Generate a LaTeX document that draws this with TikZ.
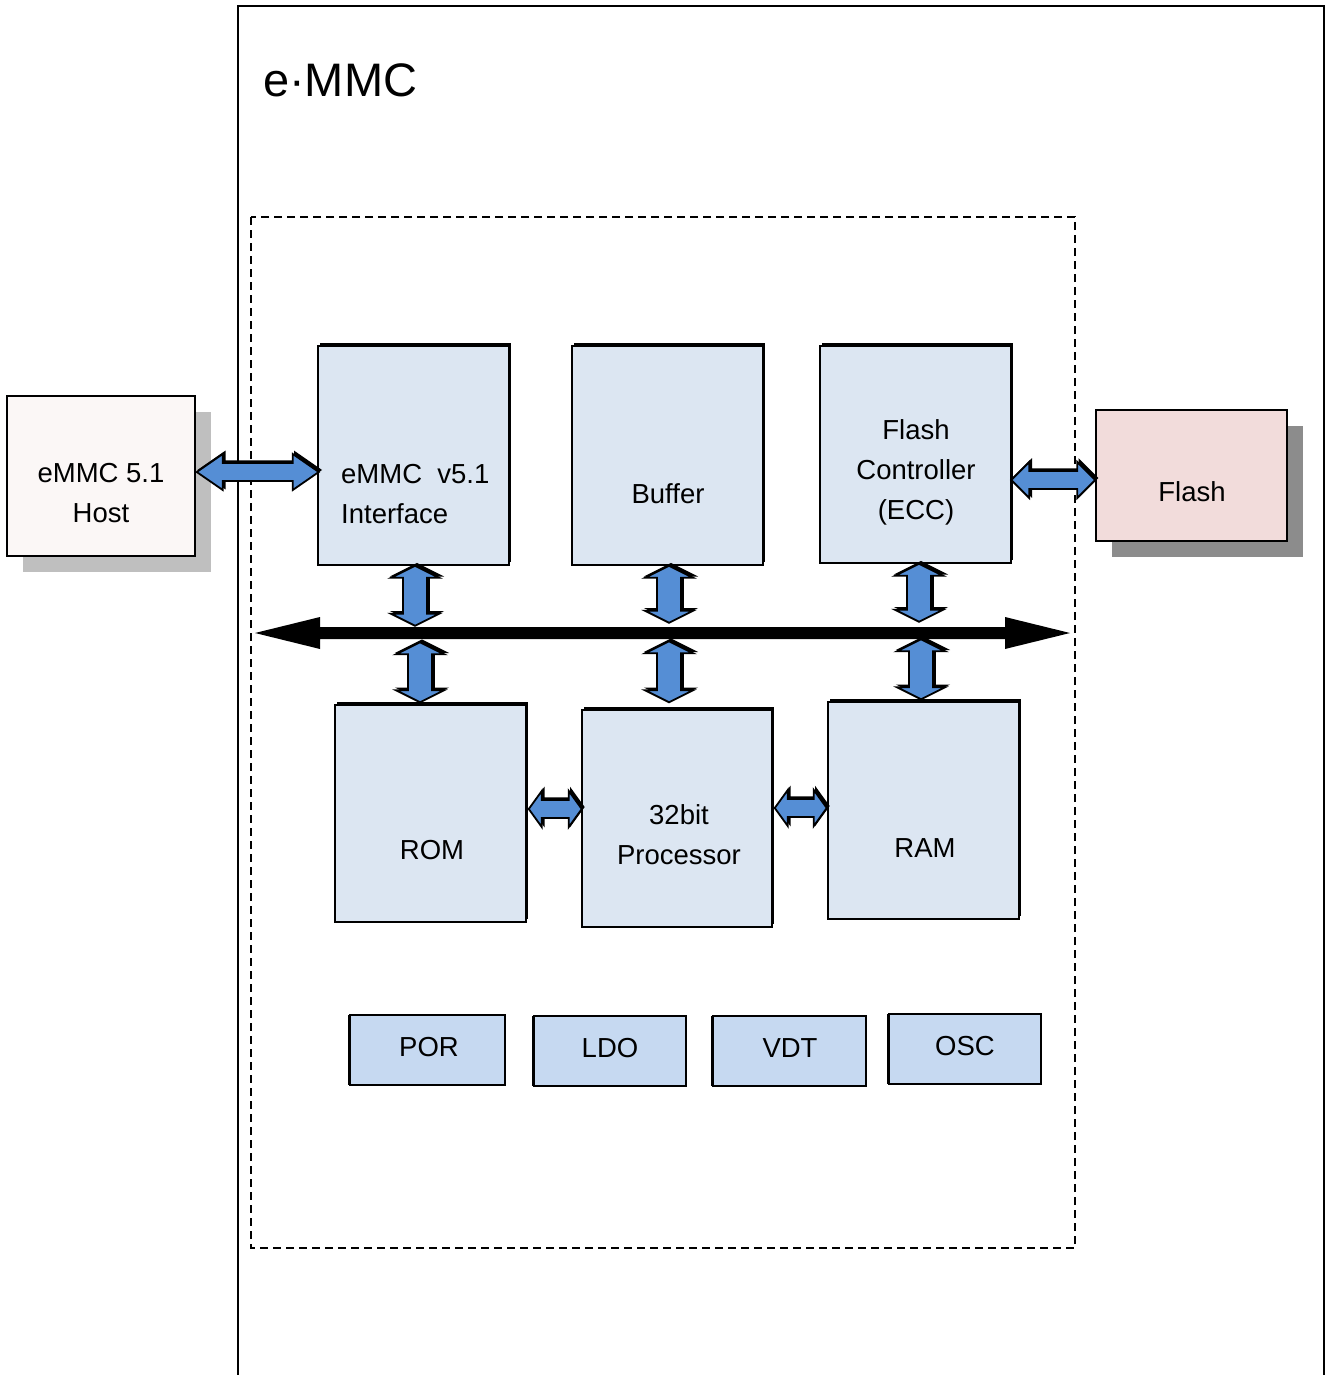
\documentclass[tikz,border=0pt]{standalone}
\usepackage{fontspec}
\setmainfont{Liberation Sans}
\usetikzlibrary{shadows,calc}
\definecolor{boxblue}{HTML}{DCE6F2}
\definecolor{smallblue}{HTML}{C6D9F1}
\definecolor{arrblue}{HTML}{558ED5}
\definecolor{hostfill}{HTML}{FBF7F6}
\definecolor{flashfill}{HTML}{F2DCDB}
\definecolor{hostshadow}{HTML}{BFBFBF}
\definecolor{flashshadow}{HTML}{8C8C8C}
\tikzset{
  txt/.style={font=\fontsize{27.5}{40}\selectfont, align=center, inner sep=0pt},
  blockbox/.style={draw=black, line width=1.5pt, fill=boxblue, inner sep=0pt,
    drop shadow={shadow xshift=2pt, shadow yshift=3pt, fill=black, opacity=1}},
  smallbox/.style={draw=black, line width=1.5pt, fill=smallblue, inner sep=0pt,
    drop shadow={shadow xshift=-2pt, shadow yshift=0pt, fill=black, opacity=1}},
  hostbox/.style={draw=black, line width=1.5pt, fill=hostfill, inner sep=0pt,
    drop shadow={shadow xshift=16pt, shadow yshift=-16pt, fill=hostshadow, opacity=1}},
  flashbox/.style={draw=black, line width=1.5pt, fill=flashfill, inner sep=0pt,
    drop shadow={shadow xshift=16pt, shadow yshift=-16pt, fill=flashshadow, opacity=1}},
  arrshadow/.style={fill=black, draw=black, line width=1.5pt, line join=miter},
  arrmain/.style={fill=arrblue, draw=black, line width=1.8pt, line join=miter},
  dashbox/.style={draw=black, line width=1.5pt, dash pattern=on 8pt off 5pt},
}
% vertical block double arrow: anchor, offset, length (downwards from top tip)
\newcommand\varrow[3]{%
  \filldraw[arrshadow] ($(#1)+(#2)+(2,-2)$) -- ++(24,12) -- ++(-12,0) -- ++(0,{#3-24}) -- ++(12,0) -- ++(-24,12) -- ++(-24,-12) -- ++(12,0) -- ++(0,{-(#3-24)}) -- ++(-12,0) -- cycle;
  \filldraw[arrmain] ($(#1)+(#2)$) -- ++(24,12) -- ++(-12,0) -- ++(0,{#3-24}) -- ++(12,0) -- ++(-24,12) -- ++(-24,-12) -- ++(12,0) -- ++(0,{-(#3-24)}) -- ++(-12,0) -- cycle;}
% horizontal block double arrow: anchor, offset, length, head length
\newcommand\harrow[4]{%
  \filldraw[arrshadow] ($(#1)+(#2)+(2,-2)$) -- ++(#4,-18) -- ++(0,9) -- ++({#3-2*#4},0) -- ++(0,-9) -- ++(#4,18) -- ++(-#4,18) -- ++(0,-9) -- ++({-(#3-2*#4)},0) -- ++(0,9) -- cycle;
  \filldraw[arrmain] ($(#1)+(#2)$) -- ++(#4,-18) -- ++(0,9) -- ++({#3-2*#4},0) -- ++(0,-9) -- ++(#4,18) -- ++(-#4,18) -- ++(0,-9) -- ++({-(#3-2*#4)},0) -- ++(0,9) -- cycle;}
\begin{document}
\begin{tikzpicture}[x=1pt,y=-1pt]
\useasboundingbox (0,0) rectangle (1327,1375);
\fill[white] (0,0) rectangle (1327,1375);

% outer frame
\draw[line width=2pt] (238,1375) -- (238,6) -- (1324,6) -- (1324,1375);
\node[anchor=base west, inner sep=0pt, font=\fontsize{47}{56}\selectfont] (title) at (263,97) {e·MMC};

% dashed inner box
\draw[dashbox] (251,217) rectangle (1075,1248);

% boxes
\node[hostbox, minimum width=188pt, minimum height=160pt] (host) at (101,476) {};
\node[txt] (host-t) at ($(host.center)+(0,17)$) {eMMC 5.1\\Host};

\node[blockbox, minimum width=191pt, minimum height=219pt] (ifc) at (413.5,455.5) {};
\node[txt, anchor=west, align=left] (ifc-t) at (341,494) {eMMC\ \ v5.1\\Interface};

\node[blockbox, minimum width=191pt, minimum height=219pt] (buf) at (667.5,455.5) {};
\node[txt] (buf-t) at (668,494) {Buffer};

\node[blockbox, minimum width=191pt, minimum height=217pt] (fc) at (915.5,454.5) {};
\node[txt] (fc-t) at (916,472) {Flash\\Controller\\(ECC)};

\node[flashbox, minimum width=191pt, minimum height=131pt] (flash) at (1191.5,475.5) {};
\node[txt] (flash-t) at (1192,492) {Flash};

\node[blockbox, minimum width=191pt, minimum height=217pt] (rom) at (430.5,813.5) {};
\node[txt] (rom-t) at (432,850) {ROM};

\node[blockbox, minimum width=190pt, minimum height=217pt] (proc) at (677,818.5) {};
\node[txt] (proc-t) at (679,835) {32bit\\Processor};

\node[blockbox, minimum width=191pt, minimum height=217pt] (ram) at (923.5,810.5) {};
\node[txt] (ram-t) at (925,848) {RAM};

\node[smallbox, minimum width=155pt, minimum height=70pt] (por) at (427.5,1050) {};
\node[txt] (por-t) at (429,1047) {POR};
\node[smallbox, minimum width=152pt, minimum height=70pt] (ldo) at (610,1051) {};
\node[txt] (ldo-t) at (610,1048) {LDO};
\node[smallbox, minimum width=153pt, minimum height=70pt] (vdt) at (789.5,1051) {};
\node[txt] (vdt-t) at (790,1048) {VDT};
\node[smallbox, minimum width=152pt, minimum height=70pt] (osc) at (965,1049) {};
\node[txt] (osc-t) at (965,1046) {OSC};

% internal bus
\coordinate (busL) at (255,633);
\coordinate (busR) at (1070,633);
\fill[black] (busL) -- ++(65,-16) -- ++(0,10) -- ($(busR)+(-65,-6)$) -- ++(0,-10) -- (busR) -- ++(-65,16) -- ++(0,-10) -- ($(busL)+(65,6)$) -- ++(0,10) -- cycle;

% vertical block arrows
\varrow{ifc.south}{1.5,0}{60}
\varrow{buf.south}{1.5,0}{57}
\varrow{fc.south}{3.5,0}{58}
\varrow{rom.north}{-10.5,-62}{60}
\varrow{proc.north}{-8,-68}{61}
\varrow{ram.north}{-2.5,-62}{60}

% horizontal block arrows
\harrow{host.east}{1,-4}{122}{26}
\harrow{flash.west}{-84,4.5}{84}{18}
\harrow{rom.east}{2,-4.5}{53}{13}
\harrow{proc.east}{2,-10.5}{52}{13}
\end{tikzpicture}
\end{document}
